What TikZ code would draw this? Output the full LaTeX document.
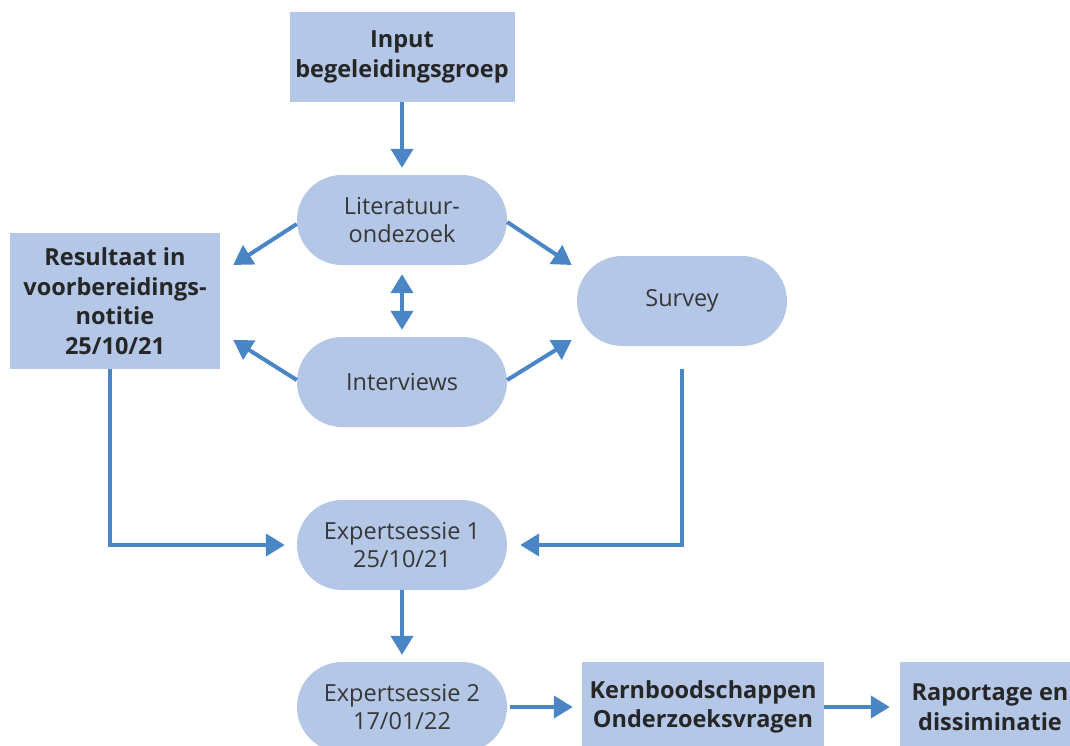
\documentclass[tikz,border=0pt]{standalone}
\usepackage{fontspec}
\setmainfont{Open Sans}
\usetikzlibrary{arrows.meta}
\definecolor{boxblue}{RGB}{180,199,231}
\definecolor{arrowblue}{RGB}{74,134,198}
\definecolor{textgrey}{RGB}{55,55,55}

\begin{document}
\begin{tikzpicture}[x=1pt, y=-1pt, every node/.style={fill=boxblue, align=center, inner sep=0pt}, box/.style={font=\fontsize{23.5}{29.5}\selectfont\bfseries, text=black!85}, pill/.style={minimum width=210pt, minimum height=90pt, rounded corners=45pt, text=textgrey, font=\fontsize{23.5}{28.5}\selectfont}, arr/.style={draw=arrowblue, line width=4pt, -{Triangle[width=22pt,length=19pt]}}, dblarr/.style={arr, {Triangle[width=22pt,length=19pt]}-{Triangle[width=22pt,length=19pt]}}]
		\useasboundingbox (0,0) rectangle (1070,745);
		% boxes
		\node[box, minimum width=225pt, minimum height=90pt] (input) at (402,57) {Input\\begeleidingsgroep};
		\node[box, minimum width=210pt, minimum height=136pt] (result) at (115,301) {Resultaat in\\voorbereidings-\\notitie\\25/10/21};
		\node[box, minimum width=242pt, minimum height=90pt] (kern) at (703,707) {Kernboodschappen\\Onderzoeksvragen};
		\node[box, minimum width=180pt, minimum height=90pt] (rapp) at (990,707) {Raportage en\\dissiminatie};
		% pills
		\node[pill] (lit) at (402,220) {Literatuur-\\ondezoek};
		\node[pill] (interv) at (402,382) {Interviews};
		\node[pill] (survey) at (682,301) {Survey};
		\node[pill] (exp1) at (402,545) {Expertsessie 1\\25/10/21};
		\node[pill] (exp2) at (402,707) {Expertsessie 2\\17/01/22};
		% arrows
		\draw[arr, shorten >=7pt] (input.south) -- (lit.north);
		\draw[dblarr, shorten <=9pt, shorten >=7pt] (lit.south) -- (interv.north);
		\draw[arr] ([yshift=-4pt]lit.west) -- ([xshift=13pt, yshift=36pt]result.east);
		\draw[arr] ([yshift=-2pt]lit.east) -- ([xshift=-5pt, yshift=36pt]survey.west);
		\draw[arr] ([yshift=2pt]interv.west) -- ([xshift=13pt, yshift=-39pt]result.east);
		\draw[arr] ([yshift=2pt]interv.east) -- ([xshift=-5pt, yshift=-39pt]survey.west);
		\draw[arr, shorten >=12pt] ([xshift=-5pt]result.south) |- (exp1.west);
		\draw[arr, shorten <=23pt, shorten >=13pt] (survey.south) |- (exp1.east);
		\draw[arr, shorten >=7pt] (exp1.south) -- (exp2.north);
		\draw[arr, shorten <=3pt, shorten >=9pt] (exp2.east) -- (kern.west);
		\draw[arr, shorten >=10pt] (kern.east) -- (rapp.west);
	\end{tikzpicture}
\end{document}
